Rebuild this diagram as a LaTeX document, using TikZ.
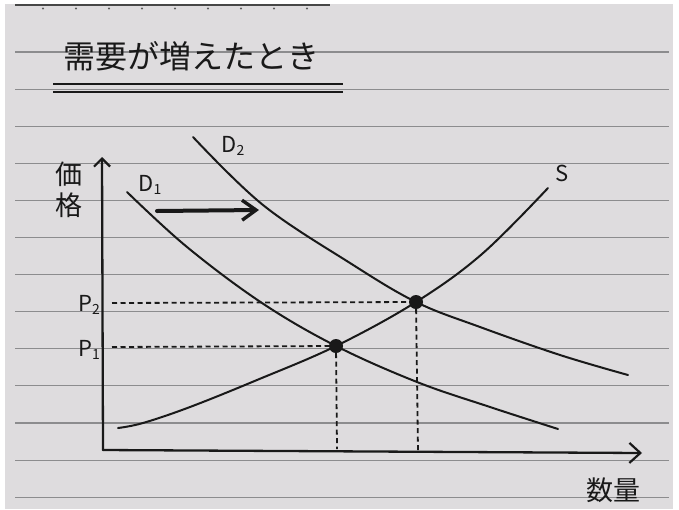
\documentclass[tikz,border=0pt]{standalone}
\usepackage{fontspec}
\newfontfamily\jp{Noto Sans CJK JP}
\usetikzlibrary{arrows.meta}
\definecolor{paper}{RGB}{222,220,222}
\definecolor{rulecol}{RGB}{140,140,142}
\definecolor{ink}{RGB}{25,25,25}
\tikzset{
  curve/.style={ink, line width=2pt, line cap=round},
  axisline/.style={ink, line width=2.3pt, line cap=round},
  guide/.style={ink, line width=1.8pt, dash pattern=on 5pt off 3.5pt},
  dot/.style={circle, fill=ink, inner sep=0pt, minimum size=14pt},
  lab/.style={ink, font=\jp\fontsize{22}{22}\selectfont, inner sep=0pt},
  jlab/.style={ink, font=\jp\fontsize{27}{31}\selectfont, inner sep=0pt, align=center}
}
\begin{document}
\begin{tikzpicture}[x=1pt,y=-1pt]
\useasboundingbox (0,0) rectangle (679,509);
\fill[white] (0,0) rectangle (679,509);
\fill[paper] (5,4) rectangle (673,509);
% ruled lines
\foreach \i in {0,...,12}
  \draw[rulecol, line width=1.1pt] (15,{52+37.1*\i}) -- (669,{52+37.1*\i});
% header line with dots
\draw[ink!80, line width=1.8pt] (15,5) -- (330,5);
\foreach \i in {0,...,8}
  \fill[ink!70] ({43+33*\i},8.5) circle (1.1pt);
% title
\node[ink, font=\jp\fontsize{32}{32}\selectfont, inner sep=0pt] (title) at (191,56) {需要が増えたとき};
\draw[ink, line width=2.2pt] (53,84) -- (343,84);
\draw[ink, line width=2.2pt] (53,92) -- (343,92);
% axes
\coordinate (O) at (103,450);
\coordinate (ytop) at (102,157);
\coordinate (xend) at (642,453);
\draw[axisline, -{Straight Barb[length=8pt,width=16pt,line width=2.2pt]}] (O) -- (ytop);
\draw[axisline, -{Straight Barb[length=11pt,width=20pt,line width=2.2pt]}] (O) -- (xend);
\node[jlab] (ylab) at (69,190) {価\\格};
\node[jlab] (xlab) at (613,490) {数量};
% curves
\draw[curve] plot[smooth, tension=0.6] coordinates {(127,192) (187,247) (262,303) (336,346) (417,382) (490,407) (558,429)};
\draw[curve] plot[smooth, tension=0.6] coordinates {(193,137) (263,205) (350,263) (416,302) (480,327) (560,355) (628,375)};
\draw[curve] plot[smooth, tension=0.6] coordinates {(118,428) (143,423) (190,407) (257,380) (336,346) (416,302) (482,254) (548,188)};
% equilibrium points
\node[dot] (e1) at (336,346) {};
\node[dot] (e2) at (416,302) {};
% guides
\coordinate (p1y) at (112,347);
\coordinate (p2y) at (112,303);
\coordinate (q1) at (337,449);
\coordinate (q2) at (418,451);
\draw[guide] (p1y) -- (e1);
\draw[guide] (p2y) -- (e2);
\draw[guide] (e1) -- (q1);
\draw[guide] (e2) -- (q2);
% labels
\node[lab] (d1) at (150,185) {D\raisebox{-3pt}{\fontsize{14}{14}\selectfont 1}};
\node[lab] (d2) at (233,146) {D\raisebox{-3pt}{\fontsize{14}{14}\selectfont 2}};
\node[lab] (s) at (562,173) {S};
\node[lab] (p2) at (89,305) {P\raisebox{-3pt}{\fontsize{14}{14}\selectfont 2}};
\node[lab] (p1) at (89,350) {P\raisebox{-3pt}{\fontsize{14}{14}\selectfont 1}};
% shift arrow
\coordinate (a1) at (157,211);
\coordinate (a2) at (259,210);
\draw[ink, line width=4pt, line cap=round, -{Straight Barb[length=14pt,width=20pt,line width=3.4pt]}] (a1) -- (a2);
\end{tikzpicture}
\end{document}
